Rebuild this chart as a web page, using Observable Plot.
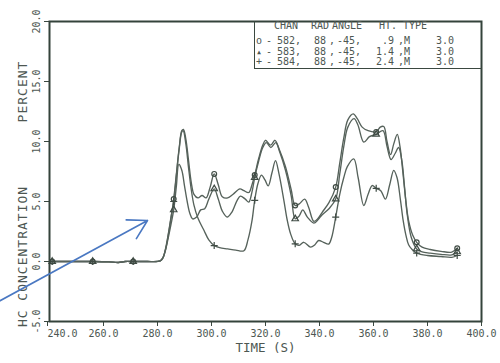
<!DOCTYPE html>
<html><head><meta charset="utf-8">
<script src="https://cdn.jsdelivr.net/npm/d3@7"></script>
<script src="https://cdn.jsdelivr.net/npm/@observablehq/plot@0.6"></script>
<style>
body{margin:0;background:#fff;}
#wrap{position:relative;width:500px;height:363px;overflow:hidden;font-family:"DejaVu Sans Mono",monospace;color:#4d5752;}
#legend{position:absolute;left:254px;top:21px;width:227px;height:47px;border-left:1.6px solid #3a4840;border-bottom:1.6px solid #3a4840;}
.lg{position:absolute;font-size:10px;line-height:10px;white-space:pre;}
</style>
</head><body>
<div id="wrap"></div>
<script>
// ---- data ----
const seriesNames = ["582", "583", "584"];
const symbols = ["circle", "triangle", "plus"];
const legendSyms = ["o", "\u25B4", "+"];
const chans = ["582", "583", "584"];
const rads = ["88", "88", "88"];
const angles = ["-45", "-45", "-45"];
const hts = [".9", "1.4", "2.4"];
const types = ["M", "M", "M"];
const vals = ["3.0", "3.0", "3.0"];

const baseT = [240, 241, 248, 256, 262, 265.5, 268, 271, 276, 281];
const baseV = [0, 0, 0, 0, -0.03, -0.08, 0, 0, 0, 0.05];

const t582 = [282, 283, 284, 285, 286, 287, 288, 289, 289.6, 290.5, 291.5, 292.5, 293.5, 295, 296.5, 298, 299.5, 301, 302.5, 304, 306, 308, 310.5, 312, 313.8, 315, 316, 317.5, 319, 320, 321.9, 323.5, 325, 327.4, 329.5, 331, 332.5, 334.5, 336, 337.9, 339.5, 341, 343.5, 346, 347.5, 349, 350.5, 352.5, 354, 355.8, 358, 361, 362.5, 363.8, 365, 366.3, 367.5, 368.8, 369.8, 370.8, 372, 373, 374.5, 376, 378, 381, 385, 389, 391];
const v582 = [0.3, 1.0, 2.2, 3.6, 5.2, 7.3, 9.4, 10.9, 11.0, 10.2, 8.4, 6.6, 5.6, 5.3, 5.5, 5.3, 6.2, 7.3, 6.4, 5.4, 5.3, 5.6, 6.05, 5.9, 5.75, 6.4, 7.2, 8.6, 9.7, 10.1, 9.7, 10.1, 9.4, 7.9, 6.0, 4.67, 4.8, 5.2, 4.5, 3.35, 3.6, 4.1, 4.9, 6.2, 8.2, 10.3, 11.8, 12.3, 11.9, 11.2, 10.9, 10.8, 11.2, 11.25, 10.0, 8.9, 9.8, 10.6, 9.6, 7.6, 5.0, 3.4, 2.2, 1.6, 1.2, 1.0, 0.85, 0.78, 1.1];

const t583 = [282, 283, 284, 285, 286, 287, 287.9, 289, 290, 291, 292, 293, 294.5, 296, 297.5, 299, 301, 302.5, 304, 305.8, 307.5, 309.5, 310.7, 312.5, 313.8, 315, 316, 317.5, 319, 320.3, 322, 323.8, 325.3, 327.4, 329.5, 331, 332.5, 333.8, 335.5, 337.9, 339.5, 341, 343.5, 346, 347.5, 349, 350.5, 352.8, 354.2, 356.4, 358.5, 361, 363.5, 365, 366.5, 368, 369.3, 370.5, 371.5, 372.5, 374, 376, 378, 381, 385, 389, 391];
const v583 = [0.3, 1.0, 2.0, 3.1, 4.3, 6.3, 8.1, 7.6, 6.3, 5.0, 4.0, 3.55, 3.7, 4.3, 4.4, 5.2, 6.05, 5.2, 4.2, 3.7, 4.1, 5.1, 5.45, 5.2, 4.95, 5.8, 7.0, 8.4, 9.5, 9.9, 9.5, 9.9, 9.1, 7.6, 5.5, 3.55, 3.8, 4.3, 3.7, 3.2, 3.5, 3.9, 4.4, 5.2, 7.3, 9.6, 11.2, 11.9, 11.4, 9.95, 10.4, 10.6, 10.9, 9.6, 8.5, 9.0, 9.5, 8.4, 6.2, 3.9, 2.0, 1.05, 0.8, 0.7, 0.6, 0.55, 0.8];

const t584 = [282, 283, 284, 285, 286, 287, 288, 289, 289.5, 290.5, 291.5, 292.5, 293.5, 295, 297.2, 299, 301, 303, 306, 309, 312, 313.5, 315, 316, 317.2, 318.5, 319.8, 321, 322.4, 323.7, 325, 326.8, 328, 329.3, 331, 332.5, 334.2, 336.7, 338.3, 339.7, 341.5, 343.4, 344.5, 346, 347.5, 349, 350.3, 352.7, 354.3, 356.4, 358, 359.5, 361, 362.7, 364.4, 366, 367.5, 368.7, 370, 371, 372, 373, 374.3, 376, 380, 385, 389, 391];
const v584 = [0.3, 1.1, 2.3, 3.7, 5.0, 7.2, 9.3, 10.8, 10.9, 9.8, 7.8, 6.0, 4.7, 3.6, 2.6, 1.8, 1.33, 1.15, 1.05, 0.95, 0.9, 1.8, 3.4, 5.1, 6.5, 7.2, 6.8, 6.3, 7.4, 8.4, 7.3, 5.1, 3.5, 2.3, 1.47, 1.35, 1.6, 1.2, 1.4, 1.75, 1.6, 1.45, 2.0, 3.7, 5.6, 7.0, 7.9, 8.55, 7.0, 4.67, 5.6, 6.33, 6.1, 5.9, 5.2, 6.4, 7.6, 7.0, 5.1, 3.4, 2.2, 1.4, 1.0, 0.7, 0.5, 0.42, 0.35, 0.5];

const markerTimes = [241, 256, 271, 286, 301, 316, 331, 346, 361, 376, 391];
const xTicks = [240, 260, 280, 300, 320, 340, 360, 380, 400];
const yTicks = [-5, 0, 5, 10, 15, 20];
const arrowFrom = [221, -3.35];
const arrowTo = [276.3, 3.42];

// ---- build tables ----
const seriesT = [t582, t583, t584];
const seriesV = [v582, v583, v584];
const data = [];
seriesNames.forEach((name, k) => {
  baseT.forEach((t, i) => data.push({series: name, t, v: baseV[i]}));
  seriesT[k].forEach((t, i) => data.push({series: name, t, v: seriesV[k][i]}));
});
const markers = data.filter(d => markerTimes.includes(d.t));
const arrowData = [{x1: arrowFrom[0], y1: arrowFrom[1], x2: arrowTo[0], y2: arrowTo[1]}];

const ink = "#56625b";
const fmt = d => d.toFixed(1);

const plot = Plot.plot({
  width: 500, height: 363,
  marginLeft: 49, marginRight: 19, marginTop: 21, marginBottom: 42,
  x: {domain: [240, 400]},
  y: {domain: [-5, 20]},
  style: {fontFamily: "DejaVu Sans Mono, monospace", fontSize: "10px", color: "#4d5752", background: "#fff"},
  marks: [
    Plot.axisX({ticks: xTicks.slice(1), tickFormat: fmt, tickSize: 5, tickPadding: 3, stroke: "#3a4840", label: null}),
    Plot.axisX({ticks: xTicks.slice(0, 1), tickFormat: fmt, tickSize: 5, tickPadding: 3, textAnchor: "start", dx: -2, stroke: "#3a4840", label: null}),
    Plot.axisY({ticks: yTicks, tickFormat: fmt, tickSize: 5, tickPadding: 5, tickRotate: -90, stroke: "#3a4840", label: null}),
    Plot.line(data, {x: "t", y: "v", z: "series", curve: "catmull-rom", stroke: ink, strokeWidth: 1.35}),
    ...seriesNames.map((name, k) => Plot.dot(markers.filter(d => d.series === name), {x: "t", y: "v", symbol: symbols[k], r: 2.4, stroke: "#3f4b44", strokeWidth: 1.2, fill: "none"})),
    Plot.frame({stroke: "#34433b", strokeWidth: 2}),
    Plot.text(["TIME (S)"], {text: d => d, frameAnchor: "bottom", dy: 30, fontSize: 12.5, fill: "#4d5752"}),
    Plot.text(["HC CONCENTRATION"], {text: d => d, frameAnchor: "left", textAnchor: "middle", rotate: -90, dx: -27, dy: 85, fontSize: 13, fill: "#4d5752"}),
    Plot.text(["PERCENT"], {text: d => d, frameAnchor: "left", textAnchor: "middle", rotate: -90, dx: -27, dy: -80, fontSize: 13, fill: "#4d5752"}),
    Plot.arrow(arrowData, {x1: "x1", y1: "y1", x2: "x2", y2: "y2", stroke: "#4a78c2", strokeWidth: 1.6, headLength: 20, headAngle: 60})
  ]
});
d3.select(plot).selectAll("text").filter(function(){ return this.textContent === "HC CONCENTRATION" || this.textContent === "PERCENT"; }).style("letter-spacing", "1px");
const wrap = document.getElementById("wrap");
wrap.appendChild(plot);

// legend overlay
const lg = document.createElement("div");
lg.id = "legend";
wrap.appendChild(lg);
function put(txt, left, center, align) {
  const s = document.createElement("span");
  s.className = "lg";
  s.textContent = txt;
  s.style.top = (center - 21 - 5) + "px";
  if (align === "right") { s.style.right = (254 + 227 - left) + "px"; }
  else s.style.left = (left - 254) + "px";
  lg.appendChild(s);
}
put("CHAN", 273, 26); put("RAD", 310, 26); put("ANGLE", 331, 26); put("HT.", 378, 26); put("TYPE", 402, 26);
const rowC = [41, 51.5, 62];
chans.forEach((c, i) => {
  put(legendSyms[i], 255, rowC[i]);
  put("-", 265, rowC[i]);
  put(c + ",", 276, rowC[i]);
  put(rads[i], 313, rowC[i]);
  put(",", 328, rowC[i]);
  put(angles[i] + ",", 336, rowC[i]);
  put(hts[i], 393, rowC[i], "right");
  put("," + types[i], 397, rowC[i]);
  put(vals[i], 435, rowC[i]);
});
</script>
</body></html>
